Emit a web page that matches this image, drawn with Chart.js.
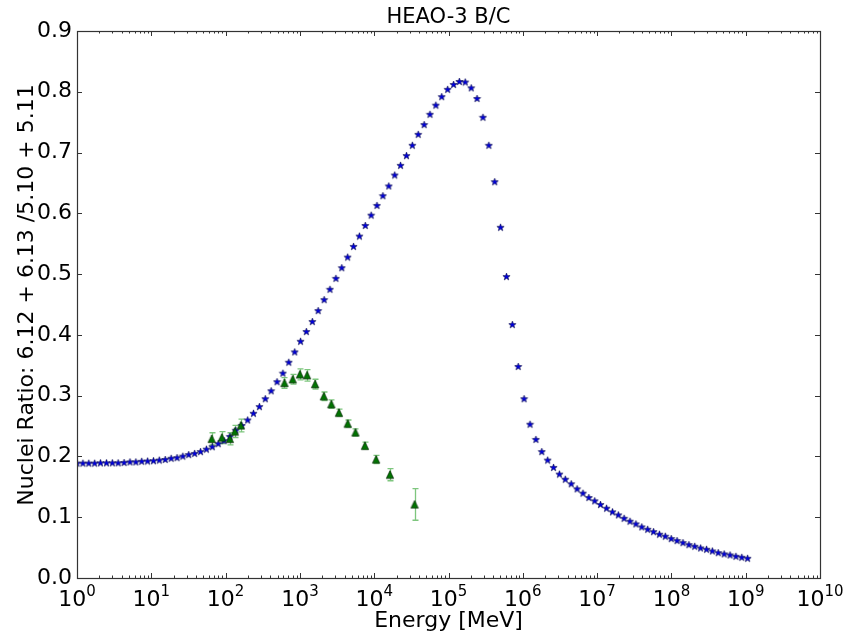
<!DOCTYPE html>
<html lang="en">
<head>
<meta charset="UTF-8">
<title>HEAO-3 B/C</title>
<script src="https://cdn.jsdelivr.net/npm/chart.js"></script>
<style>
    body { margin: 0; background: #fff; }
    .wrap { width: 858px; height: 634px; position: relative; }
</style>
</head>
<body>
<div class="wrap"><canvas id="bcChart"></canvas></div>
<script>
// model curve: energy grid [MeV] and B/C ratio
var modelEnergy = [
    1, 1.2, 1.44, 1.73, 2.07, 2.49, 2.99, 3.58, 4.30, 5.16,
    6.19, 7.43, 8.92, 10.7, 12.8, 15.4, 18.5, 22.2, 26.6, 31.9,
    38.3, 46.0, 55.2, 66.2, 79.5, 95.4, 114, 137, 165, 198,
    237, 285, 342, 410, 492, 591, 709, 851, 1020, 1220,
    1470, 1760, 2120, 2540, 3050, 3660, 4390, 5270, 6320, 7580,
    9100, 1.09e4, 1.31e4, 1.57e4, 1.89e4, 2.26e4, 2.72e4, 3.26e4, 3.91e4, 4.70e4,
    5.63e4, 6.76e4, 8.11e4, 9.74e4, 1.17e5, 1.40e5, 1.68e5, 2.02e5, 2.42e5, 2.91e5,
    3.49e5, 4.19e5, 5.02e5, 6.03e5, 7.23e5, 8.68e5, 1.04e6, 1.25e6, 1.50e6, 1.80e6,
    2.16e6, 2.59e6, 3.11e6, 3.73e6, 4.48e6, 5.38e6, 6.45e6, 7.74e6, 9.29e6, 1.11e7,
    1.34e7, 1.61e7, 1.93e7, 2.31e7, 2.77e7, 3.33e7, 3.99e7, 4.79e7, 5.75e7, 6.90e7,
    8.28e7, 9.94e7, 1.19e8, 1.43e8, 1.72e8, 2.06e8, 2.47e8, 2.97e8, 3.56e8, 4.27e8,
    5.13e8, 6.15e8, 7.38e8, 8.86e8, 1.06e9
];
var modelRatio = [
    0.189, 0.189, 0.189, 0.189, 0.1895, 0.1895, 0.1895, 0.1895, 0.190, 0.191,
    0.191, 0.192, 0.1925, 0.193, 0.194, 0.195, 0.197, 0.198, 0.2005, 0.203,
    0.205, 0.208, 0.212, 0.216, 0.221, 0.226, 0.233, 0.243, 0.251, 0.260,
    0.271, 0.282, 0.295, 0.308, 0.323, 0.337, 0.355, 0.372, 0.3895, 0.4055,
    0.422, 0.440, 0.458, 0.475, 0.493, 0.5105, 0.528, 0.5456, 0.5626, 0.580,
    0.597, 0.613, 0.629, 0.645, 0.663, 0.679, 0.695, 0.712, 0.730, 0.746,
    0.763, 0.778, 0.792, 0.804, 0.812, 0.817, 0.816, 0.8065, 0.789, 0.758,
    0.712, 0.652, 0.577, 0.496, 0.417, 0.348, 0.295, 0.253, 0.228, 0.208,
    0.194, 0.182, 0.171, 0.1625, 0.155, 0.1467, 0.1396, 0.1324, 0.1269, 0.1209,
    0.1148, 0.1088, 0.1038, 0.0983, 0.0934, 0.0890, 0.0841, 0.0802, 0.0763, 0.0720,
    0.0687, 0.0648, 0.0615, 0.0582, 0.0549, 0.0522, 0.0494, 0.0473, 0.0445, 0.0417,
    0.0396, 0.0379, 0.0357, 0.0341, 0.0324
];

// measured points with error bars
var dataEnergy = [65, 89, 114, 133, 160, 620, 800, 1000, 1250, 1600,
                  2100, 2650, 3350, 4400, 5600, 7500, 10600, 16300, 35000];
var dataRatio  = [0.229, 0.231, 0.229, 0.241, 0.251, 0.321, 0.327, 0.335, 0.3335, 0.319,
                  0.299, 0.286, 0.272, 0.254, 0.2395, 0.2176, 0.195, 0.170, 0.121];
var dataError  = [0.010, 0.010, 0.010, 0.010, 0.0105, 0.0088, 0.008, 0.009, 0.0095, 0.008,
                  0.007, 0.007, 0.006, 0.006, 0.006, 0.006, 0.0066, 0.010, 0.026];

var yTicks = [0.0, 0.1, 0.2, 0.3, 0.4, 0.5, 0.6, 0.7, 0.8, 0.9];
var xDecades = [0, 1, 2, 3, 4, 5, 6, 7, 8, 9, 10];

var FONT = "'DejaVu Sans', sans-serif";

// marker images (filled star, filled triangle)
function makeStar() {
    var c = document.createElement('canvas');
    c.width = 9; c.height = 9;
    var g = c.getContext('2d');
    g.beginPath();
    for (var i = 0; i < 10; i++) {
        var r = (i % 2 === 0) ? 3.8 : 1.55;
        var a = -Math.PI / 2 + i * Math.PI / 5;
        var px = 4.5 + r * Math.cos(a), py = 4.8 + r * Math.sin(a);
        if (i === 0) g.moveTo(px, py); else g.lineTo(px, py);
    }
    g.closePath();
    g.fillStyle = '#0000e0';
    g.fill();
    g.strokeStyle = '#000044';
    g.lineWidth = 0.6;
    g.stroke();
    return c;
}
function makeTriangle() {
    var c = document.createElement('canvas');
    c.width = 10; c.height = 10;
    var g = c.getContext('2d');
    g.beginPath();
    g.moveTo(5, 1);
    g.lineTo(1.3, 8.7);
    g.lineTo(8.7, 8.7);
    g.closePath();
    g.fillStyle = '#007400';
    g.fill();
    g.strokeStyle = '#002200';
    g.lineWidth = 0.7;
    g.stroke();
    return c;
}

// error bars, frame, inward ticks, x tick labels, title, y label
var decorPlugin = {
    id: 'decor',
    beforeDatasetsDraw: function (chart) {
        var ctx = chart.ctx, x = chart.scales.x, y = chart.scales.y;
        ctx.save();
        ctx.strokeStyle = 'rgba(40,160,40,0.6)';
        ctx.lineWidth = 1.3;
        for (var i = 0; i < dataEnergy.length; i++) {
            var px = Math.round(x.getPixelForValue(dataEnergy[i])) + 0.5;
            var top = y.getPixelForValue(dataRatio[i] + dataError[i]);
            var bot = y.getPixelForValue(dataRatio[i] - dataError[i]);
            ctx.beginPath();
            ctx.moveTo(px, top); ctx.lineTo(px, bot);
            ctx.moveTo(px - 3, top); ctx.lineTo(px + 3, top);
            ctx.moveTo(px - 3, bot); ctx.lineTo(px + 3, bot);
            ctx.stroke();
        }
        ctx.restore();
    },
    afterDraw: function (chart) {
        var ctx = chart.ctx, a = chart.chartArea;
        var x = chart.scales.x, y = chart.scales.y;
        ctx.save();
        ctx.strokeStyle = '#333';
        ctx.lineWidth = 1;

        // ticks on the x axis (bottom and top, inward)
        ctx.beginPath();
        xDecades.forEach(function (d) {
            var px = Math.round(x.getPixelForValue(Math.pow(10, d))) + 0.5;
            ctx.moveTo(px, a.bottom); ctx.lineTo(px, a.bottom - 5);
            ctx.moveTo(px, a.top); ctx.lineTo(px, a.top + 5);
            if (d < 10) {
                for (var m = 2; m <= 9; m++) {
                    var pm = Math.round(x.getPixelForValue(m * Math.pow(10, d))) + 0.5;
                    ctx.moveTo(pm, a.bottom); ctx.lineTo(pm, a.bottom - 2.5);
                    ctx.moveTo(pm, a.top); ctx.lineTo(pm, a.top + 2.5);
                }
            }
        });
        // ticks on the y axis (left and right, inward)
        yTicks.forEach(function (v) {
            var py = Math.round(y.getPixelForValue(v)) + 0.5;
            ctx.moveTo(a.left, py); ctx.lineTo(a.left + 5, py);
            ctx.moveTo(a.right, py); ctx.lineTo(a.right - 5, py);
        });
        ctx.stroke();

        // frame
        ctx.strokeStyle = '#333';
        ctx.lineWidth = 1.2;
        ctx.strokeRect(Math.round(a.left) + 0.5, Math.round(a.top) + 0.5,
                       Math.round(a.right - a.left), Math.round(a.bottom - a.top));

        // x tick labels 10^n
        ctx.fillStyle = '#000';
        ctx.textBaseline = 'alphabetic';
        xDecades.forEach(function (d) {
            var px = x.getPixelForValue(Math.pow(10, d));
            ctx.font = '22px ' + FONT;
            var wBase = ctx.measureText('10').width;
            ctx.font = '15px ' + FONT;
            var wExp = ctx.measureText(String(d)).width;
            var left = px - (wBase + wExp) / 2;
            ctx.font = '22px ' + FONT;
            ctx.textAlign = 'left';
            ctx.fillText('10', left, a.bottom + 28);
            ctx.font = '15px ' + FONT;
            ctx.fillText(String(d), left + wBase, a.bottom + 18);
        });

        // title
        ctx.font = '21px ' + FONT;
        ctx.textAlign = 'center';
        ctx.fillText('HEAO-3 B/C', (a.left + a.right) / 2, 23);

        // y axis label
        ctx.translate(27, 295);
        ctx.rotate(-Math.PI / 2);
        ctx.font = '22px ' + FONT;
        ctx.textBaseline = 'middle';
        ctx.fillText('Nuclei Ratio: 6.12 + 6.13 /5.10 + 5.11', 0, 0);
        ctx.restore();
    }
};

var ctx = document.getElementById('bcChart').getContext('2d');
var bcChart = new Chart(ctx, {
    type: 'scatter',
    data: {
        datasets: [{
            label: 'HEAO-3',
            data: dataEnergy.map(function (e, i) { return { x: e, y: dataRatio[i] }; }),
            pointStyle: makeTriangle(),
            pointRadius: 4,
            showLine: false
        }, {
            label: 'model',
            data: modelEnergy.map(function (e, i) { return { x: e, y: modelRatio[i] }; }),
            pointStyle: makeStar(),
            pointRadius: 4,
            showLine: false
        }]
    },
    options: {
        responsive: true,
        maintainAspectRatio: false,
        animation: false,
        layout: { padding: { top: 31, right: 38, left: 0, bottom: 0 } },
        plugins: {
            legend: { display: false },
            tooltip: { enabled: false },
            title: { display: false }
        },
        scales: {
            x: {
                type: 'logarithmic',
                min: 1,
                max: 1e10,
                grid: { display: false, drawTicks: false },
                border: { display: false },
                ticks: { display: false },
                title: {
                    display: true,
                    text: 'Energy [MeV]',
                    color: '#000',
                    font: { family: FONT, size: 22 },
                    padding: { top: 0, bottom: 0 }
                },
                afterFit: function (s) { s.height = 56; }
            },
            y: {
                min: 0,
                max: 0.9,
                grid: { display: false, drawTicks: false },
                border: { display: false },
                afterBuildTicks: function (s) {
                    s.ticks = yTicks.map(function (v) { return { value: v }; });
                },
                ticks: {
                    color: '#000',
                    padding: 5,
                    font: { family: FONT, size: 22 },
                    callback: function (v) { return Number(v).toFixed(1); }
                },
                afterFit: function (s) { s.width = 77; }
            }
        }
    },
    plugins: [decorPlugin]
});
</script>
</body>
</html>
